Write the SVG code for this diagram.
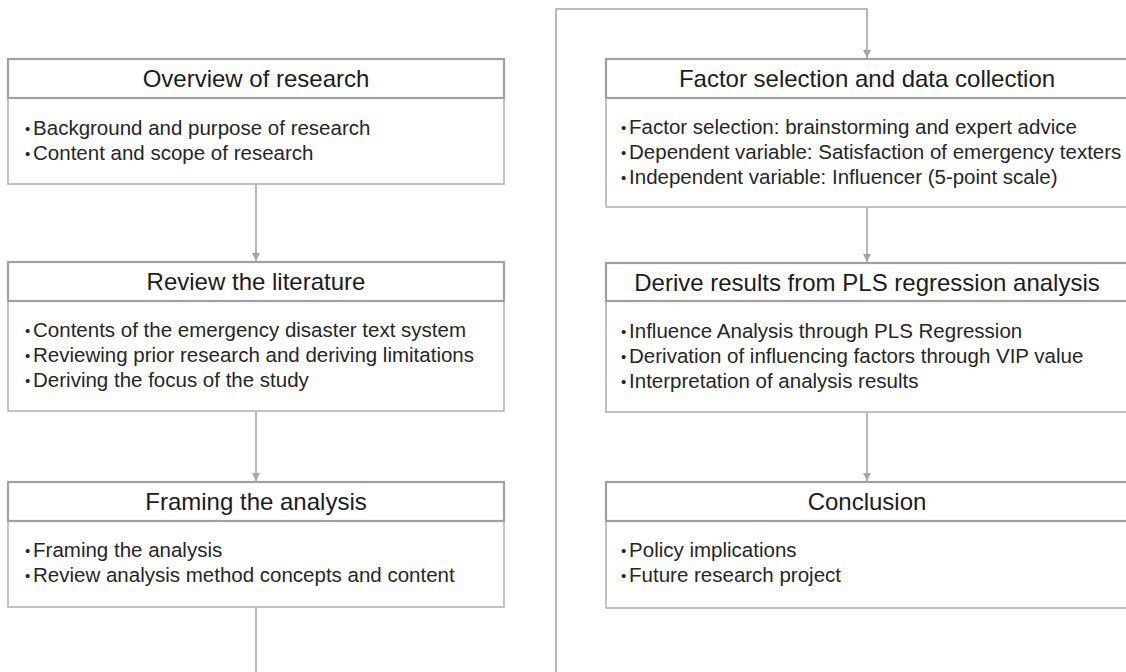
<svg xmlns="http://www.w3.org/2000/svg" width="1126" height="672" viewBox="0 0 1126 672">
<style>
.body{fill:#fff;stroke:#b4b4b4;stroke-width:1.6}
.head{fill:#fff;stroke:#a0a0a0;stroke-width:2.2}
.ht{font-family:"Liberation Sans",Arial,sans-serif;font-size:24px;fill:#1c1c1c;text-anchor:middle}
.bt{font-family:"Liberation Sans",Arial,sans-serif;font-size:20.5px;fill:#262626}
.bu{font-size:15px}
.conn{fill:none;stroke:#a6a6a6;stroke-width:1.6}
</style>
<defs>
<marker id="arr" viewBox="0 0 10 10" refX="10" refY="5" markerWidth="8" markerHeight="8" markerUnits="userSpaceOnUse" orient="auto">
<path d="M0,0 L10,5 L0,10 z" fill="#a6a6a6"/>
</marker>
</defs>
<rect width="1126" height="672" fill="#fff"/>
<g id="connectors">
<line class="conn" x1="256" y1="184" x2="256" y2="261" marker-end="url(#arr)"/>
<line class="conn" x1="256" y1="411" x2="256" y2="481" marker-end="url(#arr)"/>
<line class="conn" x1="256" y1="607" x2="256" y2="672"/>
<polyline class="conn" points="556,672 556,9 867,9 867,58" marker-end="url(#arr)"/>
<line class="conn" x1="867" y1="207" x2="867" y2="262" marker-end="url(#arr)"/>
<line class="conn" x1="867" y1="412" x2="867" y2="481" marker-end="url(#arr)"/>
</g>
<g id="overview">
<rect class="body" x="8" y="59" width="496" height="125"/>
<rect class="head" x="8" y="59" width="496" height="39"/>
<text class="ht" x="256" y="87">Overview of research</text>
<text class="bt" x="25" y="135"><tspan class="bu" dy="-1.5">•</tspan><tspan dx="2.8" dy="1.5">Background and purpose of research</tspan></text>
<text class="bt" x="25" y="160"><tspan class="bu" dy="-1.5">•</tspan><tspan dx="2.8" dy="1.5">Content and scope of research</tspan></text>
</g>
<g id="literature">
<rect class="body" x="8" y="262" width="496" height="149"/>
<rect class="head" x="8" y="262" width="496" height="39"/>
<text class="ht" x="256" y="290">Review the literature</text>
<text class="bt" x="25" y="337"><tspan class="bu" dy="-1.5">•</tspan><tspan dx="2.8" dy="1.5">Contents of the emergency disaster text system</tspan></text>
<text class="bt" x="25" y="362"><tspan class="bu" dy="-1.5">•</tspan><tspan dx="2.8" dy="1.5">Reviewing prior research and deriving limitations</tspan></text>
<text class="bt" x="25" y="387"><tspan class="bu" dy="-1.5">•</tspan><tspan dx="2.8" dy="1.5">Deriving the focus of the study</tspan></text>
</g>
<g id="framing">
<rect class="body" x="8" y="482" width="496" height="125"/>
<rect class="head" x="8" y="482" width="496" height="39"/>
<text class="ht" x="256" y="510">Framing the analysis</text>
<text class="bt" x="25" y="557"><tspan class="bu" dy="-1.5">•</tspan><tspan dx="2.8" dy="1.5">Framing the analysis</tspan></text>
<text class="bt" x="25" y="582"><tspan class="bu" dy="-1.5">•</tspan><tspan dx="2.8" dy="1.5">Review analysis method concepts and content</tspan></text>
</g>
<g id="factor">
<rect class="body" x="606" y="59" width="522" height="148"/>
<rect class="head" x="606" y="59" width="522" height="39"/>
<text class="ht" x="867" y="87">Factor selection and data collection</text>
<text class="bt" x="621" y="134"><tspan class="bu" dy="-1.5">•</tspan><tspan dx="2.8" dy="1.5">Factor selection: brainstorming and expert advice</tspan></text>
<text class="bt" x="621" y="159"><tspan class="bu" dy="-1.5">•</tspan><tspan dx="2.8" dy="1.5">Dependent variable: Satisfaction of emergency texters</tspan></text>
<text class="bt" x="621" y="184"><tspan class="bu" dy="-1.5">•</tspan><tspan dx="2.8" dy="1.5">Independent variable: Influencer (5-point scale)</tspan></text>
</g>
<g id="pls">
<rect class="body" x="606" y="263" width="522" height="149"/>
<rect class="head" x="606" y="263" width="522" height="38"/>
<text class="ht" x="867" y="291">Derive results from PLS regression analysis</text>
<text class="bt" x="621" y="338"><tspan class="bu" dy="-1.5">•</tspan><tspan dx="2.8" dy="1.5">Influence Analysis through PLS Regression</tspan></text>
<text class="bt" x="621" y="363"><tspan class="bu" dy="-1.5">•</tspan><tspan dx="2.8" dy="1.5">Derivation of influencing factors through VIP value</tspan></text>
<text class="bt" x="621" y="388"><tspan class="bu" dy="-1.5">•</tspan><tspan dx="2.8" dy="1.5">Interpretation of analysis results</tspan></text>
</g>
<g id="conclusion">
<rect class="body" x="606" y="482" width="522" height="126"/>
<rect class="head" x="606" y="482" width="522" height="39"/>
<text class="ht" x="867" y="510">Conclusion</text>
<text class="bt" x="621" y="557"><tspan class="bu" dy="-1.5">•</tspan><tspan dx="2.8" dy="1.5">Policy implications</tspan></text>
<text class="bt" x="621" y="582"><tspan class="bu" dy="-1.5">•</tspan><tspan dx="2.8" dy="1.5">Future research project</tspan></text>
</g>
</svg>
